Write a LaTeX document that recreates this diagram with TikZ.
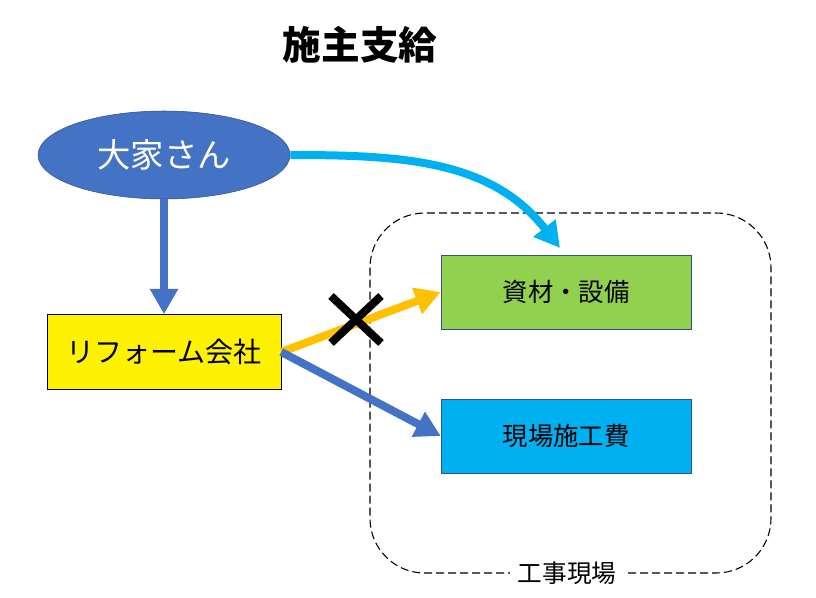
\documentclass[tikz,border=0pt]{standalone}
\usepackage{fontspec}
\setmainfont{Noto Sans CJK JP}
\usetikzlibrary{arrows.meta,shapes.geometric}

\definecolor{oyablue}{HTML}{4472C4}
\definecolor{oyaedge}{HTML}{2F528F}
\definecolor{skyblue}{HTML}{00B0F0}
\definecolor{leafgreen}{HTML}{92D050}
\definecolor{amber}{HTML}{FFC000}

\tikzset{
  costbox/.style={draw=oyaedge, minimum width=187.5pt, minimum height=55.5pt,
    font=\fontsize{19pt}{22pt}\selectfont},
  flow/.style={line width=6pt, -{Triangle[length=19pt,width=20pt]}},
}

\begin{document}
\begin{tikzpicture}[x=0.75pt, y=-0.75pt]
  \useasboundingbox (0,0) rectangle (816,597);

  % site area
  \draw[dash pattern=on 6pt off 3pt, line width=0.8pt, rounded corners=41pt]
    (370,213) rectangle (771,573);
  \node[fill=white, inner xsep=6pt, inner ysep=1pt,
    font=\fontsize{18.5pt}{20pt}\selectfont] (genba) at (567,573) {工事現場};

  % title
  \node[font=\fontsize{29pt}{32pt}\selectfont\bfseries] (title) at (360,45) {施主支給};

  % nodes
  \node[ellipse, draw=oyaedge, fill=oyablue, minimum width=189pt, minimum height=66pt,
    text=white, font=\fontsize{25pt}{28pt}\selectfont] (oya) at (164,155) {大家さん};
  \node[draw=black, fill=yellow, minimum width=175.5pt, minimum height=56.25pt,
    font=\fontsize{21pt}{24pt}\selectfont] (reform) at (164,352) {リフォーム会社};
  \node[costbox, fill=leafgreen] (shizai) at (566,292) {資材・設備};
  \node[costbox, fill=skyblue] (sekou) at (566,436) {現場施工費};

  \coordinate (drop) at (560,248);

  % arrows
  \draw[flow, oyablue] (oya.south) -- (reform.north);
  \draw[flow, skyblue] (oya.east) to[out=0, in=128] (drop);
  \draw[flow, amber] (reform.east) -- (shizai.west);
  \draw[flow, oyablue] (reform.east) -- (sekou.west);

  % cross
  \draw[line width=6pt] (331,296) -- (381,343);
  \draw[line width=6pt] (331,343) -- (381,296);
\end{tikzpicture}
\end{document}
